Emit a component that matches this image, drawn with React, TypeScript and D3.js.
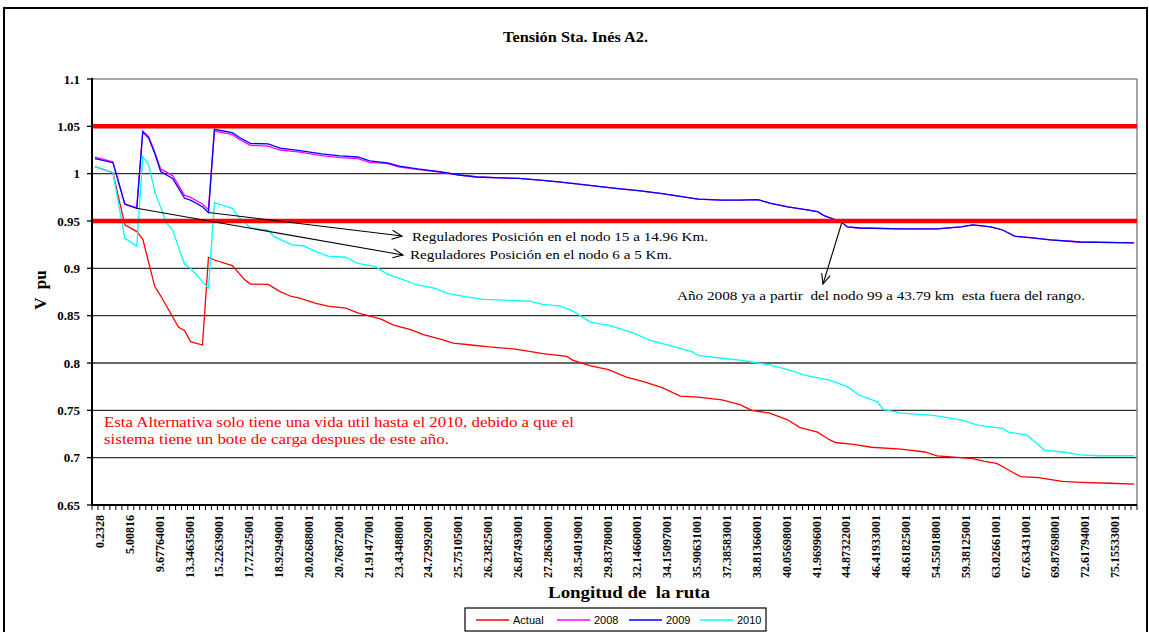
import React from "react";
import * as d3 from "d3";

// ---- data ----
const N_CATEGORIES = 175;
const LABEL_STEP = 5;
const xTickLabels = [
  "0.2328", "5.00816", "9.67764001", "13.34635001", "15.22639001", "17.72325001",
  "18.92949001", "20.02688001", "20.76872001", "21.91477001", "23.43488001",
  "24.72992001", "25.75105001", "26.23825001", "26.87493001", "27.28630001",
  "28.54019001", "29.83780001", "32.14660001", "34.15097001", "35.90631001",
  "37.38583001", "38.81366001", "40.05698001", "41.96996001", "44.87322001",
  "46.41933001", "48.61825001", "54.55018001", "59.38125001", "63.02661001",
  "67.63431001", "69.87698001", "72.61794001", "75.15533001",
];
const yTicks = [0.65, 0.7, 0.75, 0.8, 0.85, 0.9, 0.95, 1, 1.05, 1.1];
const limits = [1.05, 0.95];

// [category index, V pu]
const actual: [number, number][] = [
  [0, 1.0074], [3, 1.001], [5, 0.946], [7, 0.9388], [8, 0.931], [10, 0.881], [11, 0.871],
  [14, 0.8377], [15, 0.8343], [16, 0.8226], [18, 0.819], [19, 0.9116], [20, 0.9088],
  [23, 0.9028], [25, 0.8884], [26, 0.8834], [29, 0.883], [31, 0.8754], [33, 0.87],
  [34, 0.869], [37, 0.863], [39, 0.86], [42, 0.858], [44, 0.853], [47, 0.848], [48, 0.846],
  [50, 0.84], [53, 0.835], [55, 0.83], [58, 0.825], [60, 0.821], [63, 0.819], [66, 0.817],
  [70, 0.815], [72, 0.813], [75, 0.81], [79, 0.807], [80, 0.803], [83, 0.797], [86, 0.793],
  [89, 0.785], [92, 0.78], [95, 0.774], [98, 0.765], [101, 0.764], [105, 0.761], [108, 0.756],
  [110, 0.75], [113, 0.747], [116, 0.74], [118, 0.732], [121, 0.727], [123, 0.719],
  [124, 0.716], [127, 0.714], [130, 0.711], [135, 0.709], [139, 0.706], [141, 0.702],
  [145, 0.7], [147, 0.699], [149, 0.696], [151, 0.694], [153, 0.687], [155, 0.68],
  [158, 0.679], [162, 0.675], [165, 0.674], [170, 0.673], [174, 0.672],
];
const y2008: [number, number][] = [
  [0, 1.0175], [3, 1.0125], [5, 0.968], [7, 0.964], [8, 1.0448], [9, 1.039], [10, 1.023],
  [11, 1.005], [13, 0.998], [15, 0.977], [16, 0.975], [18, 0.968], [19, 0.962], [20, 1.045],
  [23, 1.0415], [24, 1.037], [26, 1.03], [29, 1.029], [31, 1.025], [34, 1.023], [38, 1.019],
  [41, 1.017], [44, 1.016], [46, 1.012], [49, 1.0105], [51, 1.007], [54, 1.0045],
  [58, 1.0015], [61, 0.9986], [64, 0.9965], [68, 0.9955], [71, 0.995], [75, 0.993],
  [78, 0.991], [81, 0.989], [85, 0.986], [88, 0.984], [91, 0.982], [95, 0.979], [98, 0.976],
  [101, 0.973], [105, 0.972], [108, 0.972], [111, 0.9725], [113, 0.969], [116, 0.965],
  [119, 0.962], [121, 0.96], [122, 0.956], [125, 0.949], [126, 0.9437], [128, 0.9426],
  [135, 0.9416], [141, 0.9416], [145, 0.9437], [147, 0.9458], [150, 0.9437], [152, 0.9405],
  [154, 0.934], [157, 0.9321], [160, 0.93], [165, 0.9278], [174, 0.9268],
];
const y2009: [number, number][] = [
  [0, 1.016], [3, 1.0116], [5, 0.9676], [7, 0.9634], [8, 1.0443], [9, 1.0374], [10, 1.0215],
  [11, 1.0022], [13, 0.995], [15, 0.974], [16, 0.972], [18, 0.965], [19, 0.959], [20, 1.0469],
  [23, 1.0434], [24, 1.039], [26, 1.032], [29, 1.0314], [31, 1.027], [34, 1.0245],
  [38, 1.0208], [41, 1.0187], [44, 1.0176], [46, 1.0134], [49, 1.0113], [51, 1.008],
  [54, 1.005], [58, 1.0018], [61, 0.9986], [64, 0.9965], [68, 0.9955], [71, 0.995],
  [75, 0.993], [78, 0.991], [81, 0.989], [85, 0.986], [88, 0.984], [91, 0.982], [95, 0.979],
  [98, 0.976], [101, 0.973], [105, 0.972], [108, 0.972], [111, 0.9725], [113, 0.969],
  [116, 0.965], [119, 0.962], [121, 0.96], [122, 0.956], [125, 0.949], [126, 0.9437],
  [128, 0.9426], [135, 0.9416], [141, 0.9416], [145, 0.9437], [147, 0.9458], [150, 0.9437],
  [152, 0.9405], [154, 0.934], [157, 0.9321], [160, 0.93], [165, 0.9278], [174, 0.9268],
];
const y2010: [number, number][] = [
  [0, 1.0074], [3, 1.001], [5, 0.9317], [7, 0.9236], [8, 1.018], [9, 1.0092], [10, 0.981],
  [12, 0.9476], [13, 0.9405], [15, 0.9045], [16, 0.9], [18, 0.886], [19, 0.879], [20, 0.9694],
  [23, 0.9634], [24, 0.9546], [26, 0.943], [28, 0.9405], [29, 0.9405], [30, 0.9335],
  [33, 0.9247], [35, 0.9236], [37, 0.9176], [39, 0.913], [42, 0.9117], [44, 0.9053],
  [47, 0.9018], [49, 0.8937], [51, 0.8895], [54, 0.8824], [57, 0.8789], [59, 0.8736],
  [62, 0.87], [65, 0.8672], [70, 0.866], [73, 0.865], [75, 0.862], [78, 0.86], [80, 0.855],
  [83, 0.843], [86, 0.84], [90, 0.832], [93, 0.824], [96, 0.819], [100, 0.812], [101, 0.808],
  [105, 0.805], [108, 0.803], [113, 0.798], [116, 0.793], [119, 0.787], [123, 0.782],
  [126, 0.775], [128, 0.766], [131, 0.759], [132, 0.751], [135, 0.747], [140, 0.745],
  [142, 0.743], [145, 0.74], [148, 0.734], [152, 0.731], [153, 0.727], [156, 0.724],
  [157, 0.719], [159, 0.708], [162, 0.706], [165, 0.703], [168, 0.702], [174, 0.702],
];

const seriesNames = ["Actual", "2008", "2009", "2010"];
const seriesColors = ["#ff0000", "#ff00ff", "#0000ff", "#00ffff"];
const seriesData = [actual, y2008, y2009, y2010];

// ---- layout ----
const W = 1149;
const H = 632;
const plot = { left: 92, right: 1137, top: 79, bottom: 505 };
const serif = "'Liberation Serif', 'Times New Roman', serif";
const sans = "'Liberation Sans', Arial, sans-serif";

function Arrow({ x1, y1, x2, y2 }: { x1: number; y1: number; x2: number; y2: number }) {
  const a = Math.atan2(y2 - y1, x2 - x1);
  const L = 11;
  const s = 0.42;
  const p1 = [x2 - L * Math.cos(a - s), y2 - L * Math.sin(a - s)];
  const p2 = [x2 - L * Math.cos(a + s), y2 - L * Math.sin(a + s)];
  return (
    <g stroke="#000" strokeWidth={1.1} fill="none">
      <line x1={x1} y1={y1} x2={x2} y2={y2} />
      <polyline points={`${p1[0]},${p1[1]} ${x2},${y2} ${p2[0]},${p2[1]}`} />
    </g>
  );
}

export default function App() {
  const categories = d3.range(N_CATEGORIES);
  const x = d3.scaleBand<number>().domain(categories).range([plot.left, plot.right]).padding(0);
  const bw = x.bandwidth();
  const cx = (i: number) => (x(i) as number) + bw / 2;
  const y = d3.scaleLinear().domain([0.65, 1.1]).range([plot.bottom, plot.top]);
  const line = d3
    .line<[number, number]>()
    .x((d) => cx(d[0]))
    .y((d) => y(d[1]));

  const fit = { lengthAdjust: "spacingAndGlyphs" as const, style: { whiteSpace: "pre" as const } };

  return (
    <svg
      width={W}
      height={H}
      style={{ position: "absolute", left: 0, top: 0, background: "#fff" }}
    >
      <rect x={0} y={0} width={W} height={H} fill="#fff" />
      {/* outer frame */}
      <rect x={4} y={8} width={1143} height={640} fill="none" stroke="#000" strokeWidth={2} />

      {/* title */}
      <text x={503} y={42} fontFamily={serif} fontWeight="bold" fontSize={14.5} textLength={145} {...fit}>
        Tensión Sta. Inés A2.
      </text>

      {/* gridlines */}
      {yTicks.filter((t) => t > 0.65 && t < 1.1).map((t) => (
        <line key={t} x1={plot.left} x2={plot.right} y1={y(t)} y2={y(t)} stroke="#333" strokeWidth={1.3} />
      ))}
      {/* plot area border top/right */}
      <line x1={plot.left} x2={plot.right} y1={plot.top} y2={plot.top} stroke="#888" strokeWidth={1.5} />
      <line x1={plot.right} x2={plot.right} y1={plot.top} y2={plot.bottom} stroke="#888" strokeWidth={1.5} />

      {/* series */}
      {seriesData.map((d, k) => (
        <path key={k} d={line(d) as string} fill="none" stroke={seriesColors[k]} strokeWidth={1.3} />
      ))}

      {/* limit lines */}
      {limits.map((v) => (
        <line key={v} x1={plot.left} x2={plot.right} y1={y(v)} y2={y(v)} stroke="#ff0000" strokeWidth={4.5} />
      ))}

      {/* axes */}
      <line x1={plot.left} x2={plot.left} y1={plot.top - 1} y2={plot.bottom + 1} stroke="#000" strokeWidth={2} />
      <line x1={plot.left - 1} x2={plot.right} y1={plot.bottom} y2={plot.bottom} stroke="#000" strokeWidth={2} />
      {yTicks.map((t) => (
        <g key={t}>
          <line x1={plot.left - 5} x2={plot.left} y1={y(t)} y2={y(t)} stroke="#000" strokeWidth={1.3} />
          <text
            x={80}
            y={y(t)}
            dy="0.35em"
            textAnchor="end"
            fontFamily={serif}
            fontWeight="bold"
            fontSize={13}
          >
            {String(t)}
          </text>
        </g>
      ))}
      {d3.range(N_CATEGORIES + 1).map((i) => {
        const xx = plot.left + i * bw;
        return <line key={i} x1={xx} x2={xx} y1={plot.bottom} y2={plot.bottom + 5} stroke="#000" strokeWidth={1} />;
      })}
      {xTickLabels.map((lab, j) => {
        const xx = cx(j * LABEL_STEP) + 9;
        return (
          <text
            key={lab}
            transform={`translate(${xx},515) rotate(-90)`}
            textAnchor="end"
            fontFamily={serif}
            fontWeight="bold"
            fontSize={12}
          >
            {lab}
          </text>
        );
      })}

      {/* axis titles */}
      <text
        transform="translate(46,290) rotate(-90)"
        textAnchor="middle"
        fontFamily={serif}
        fontWeight="bold"
        fontSize={17}
        style={{ whiteSpace: "pre" }}
      >
        {"V  pu"}
      </text>
      <text x={548} y={598} fontFamily={serif} fontWeight="bold" fontSize={16.5} textLength={162} {...fit}>
        {"Longitud de  la ruta"}
      </text>

      {/* annotations */}
      <Arrow x1={cx(19)} y1={y(0.959)} x2={402} y2={236} />
      <Arrow x1={cx(7)} y1={y(0.9634)} x2={403} y2={255} />
      <Arrow x1={842} y1={222} x2={823} y2={284} />
      <text x={412} y={241} fontFamily={serif} fontSize={13.5} textLength={296} {...fit}>
        Reguladores Posición en el nodo 15 a 14.96 Km.
      </text>
      <text x={410} y={259} fontFamily={serif} fontSize={13.5} textLength={262} {...fit}>
        Reguladores Posición en el nodo 6 a 5 Km.
      </text>
      <text x={677} y={300} fontFamily={serif} fontSize={13.5} textLength={408} {...fit}>
        {"Año 2008 ya a partir  del nodo 99 a 43.79 km  esta fuera del rango."}
      </text>
      <text x={104} y={427} fontFamily={serif} fontSize={15} fill="#ff0000" textLength={470} {...fit}>
        Esta Alternativa solo tiene una vida util hasta el 2010, debido a que el
      </text>
      <text x={104} y={444} fontFamily={serif} fontSize={15} fill="#ff0000" textLength={345} {...fit}>
        sistema tiene un bote de carga despues de este año.
      </text>

      {/* legend */}
      <rect x={465} y={608} width={301} height={23} fill="#fff" stroke="#000" strokeWidth={1.2} />
      {seriesNames.map((nm, k) => {
        const lx = [476, 557, 629, 700][k];
        return (
          <g key={nm}>
            <line x1={lx} x2={lx + 33} y1={620} y2={620} stroke={seriesColors[k]} strokeWidth={1.3} />
            <text x={lx + 37} y={620} dy="0.35em" fontFamily={sans} fontSize={11}>
              {nm}
            </text>
          </g>
        );
      })}
    </svg>
  );
}
